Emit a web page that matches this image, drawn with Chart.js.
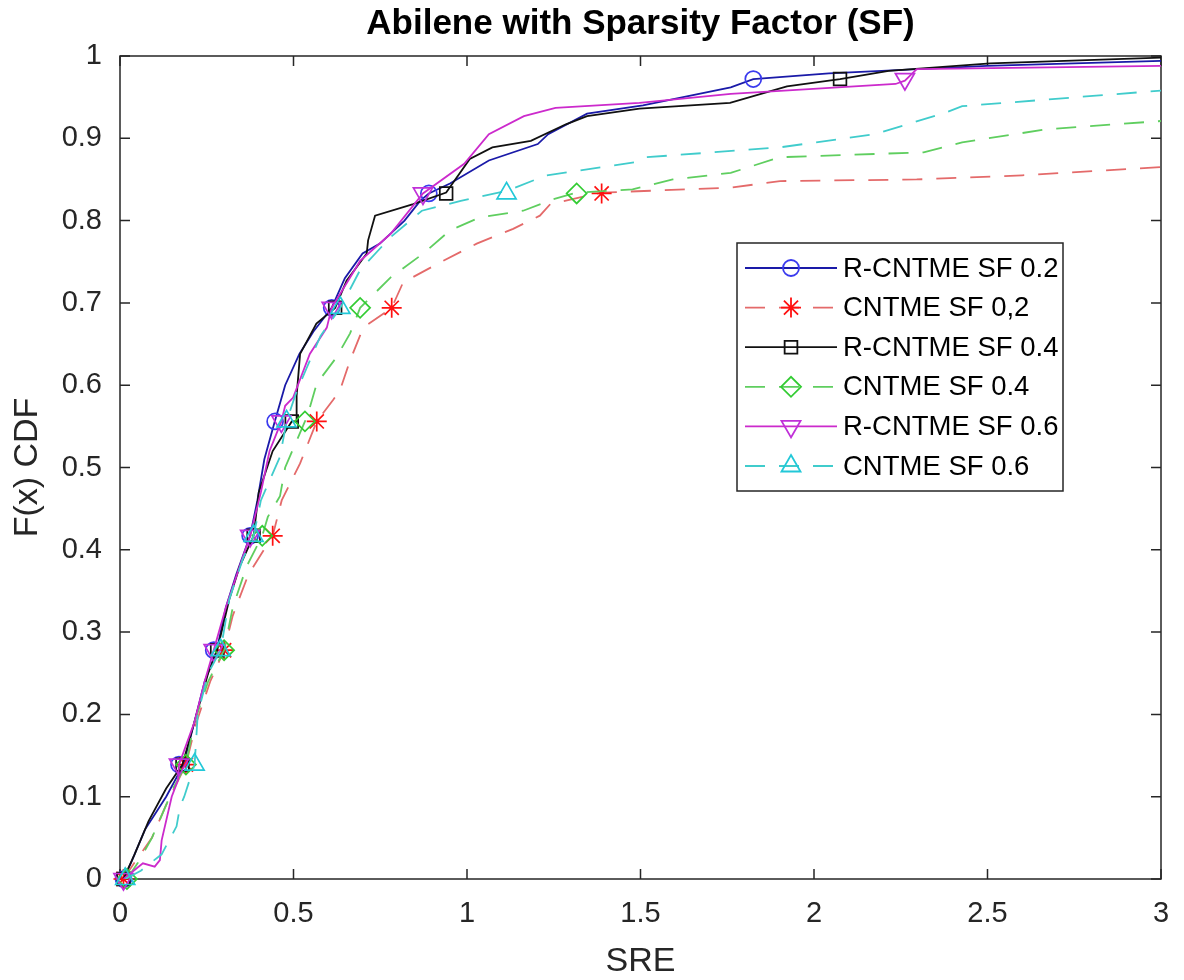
<!DOCTYPE html>
<html lang="en">
<head>
<meta charset="UTF-8">
<title>Abilene with Sparsity Factor (SF)</title>
<style>
  body { margin: 0; background: #fff; }
</style>
</head>
<body>
<canvas id="chart" width="1184" height="980"></canvas>
<script src="https://cdn.jsdelivr.net/npm/chart.js"></script>
<script>
// CDF levels where the markers sit (every 10th sample)
const markLevels = [0, 0.139, 0.278, 0.417, 0.556, 0.694, 0.833, 0.972]

const xTicks = [0, 0.5, 1, 1.5, 2, 2.5, 3]
const yTicks = [0, 0.1, 0.2, 0.3, 0.4, 0.5, 0.6, 0.7, 0.8, 0.9, 1]

// R-CNTME SF 0.2
const rc02X = [0.01, 0.032, 0.072, 0.133, 0.183, 0.214, 0.244, 0.279, 0.305, 0.335, 0.375, 0.396, 0.416, 0.446, 0.476, 0.517, 0.557, 0.61, 0.648, 0.699, 0.749, 0.82, 0.865, 0.89, 0.951, 1.063, 1.204, 1.234, 1.346, 1.507, 1.76, 1.825, 2.043, 2.498, 3.0]
const rc02Y = [0, 0.02, 0.06, 0.10, 0.139, 0.19, 0.24, 0.278, 0.33, 0.37, 0.417, 0.46, 0.51, 0.556, 0.60, 0.638, 0.665, 0.694, 0.73, 0.76, 0.772, 0.80, 0.824, 0.833, 0.845, 0.873, 0.893, 0.905, 0.93, 0.94, 0.962, 0.972, 0.979, 0.988, 0.994]
const rc02Mark = [0.01, 0.17, 0.27, 0.375, 0.447, 0.61, 0.89, 1.825]

// CNTME SF 0,2
const c02X = [0.01, 0.042, 0.092, 0.133, 0.19, 0.22, 0.26, 0.30, 0.325, 0.37, 0.44, 0.466, 0.519, 0.567, 0.614, 0.634, 0.663, 0.701, 0.783, 0.816, 0.931, 1.028, 1.133, 1.21, 1.24, 1.388, 1.76, 1.902, 2.296, 2.6, 3.0]
const c02Y = [0, 0.02, 0.05, 0.09, 0.139, 0.19, 0.24, 0.278, 0.32, 0.37, 0.417, 0.46, 0.505, 0.556, 0.582, 0.594, 0.63, 0.67, 0.694, 0.725, 0.751, 0.772, 0.79, 0.806, 0.82, 0.834, 0.840, 0.848, 0.85, 0.855, 0.865]
const c02Mark = [0.01, 0.19, 0.30, 0.44, 0.567, 0.783, 1.388]

// R-CNTME SF 0.4
const rc04X = [0.01, 0.042, 0.082, 0.133, 0.18, 0.214, 0.254, 0.28, 0.315, 0.345, 0.385, 0.40, 0.44, 0.495, 0.509, 0.509, 0.519, 0.566, 0.62, 0.653, 0.711, 0.715, 0.735, 0.845, 0.94, 1.008, 1.073, 1.184, 1.285, 1.346, 1.497, 1.758, 1.922, 2.075, 2.215, 2.508, 3.0]
const rc04Y = [0, 0.03, 0.07, 0.11, 0.139, 0.19, 0.25, 0.278, 0.34, 0.38, 0.417, 0.47, 0.52, 0.556, 0.556, 0.587, 0.638, 0.675, 0.694, 0.727, 0.76, 0.776, 0.806, 0.82, 0.834, 0.875, 0.889, 0.897, 0.917, 0.927, 0.936, 0.943, 0.963, 0.972, 0.982, 0.991, 0.998]
const rc04Mark = [0.01, 0.18, 0.28, 0.385, 0.495, 0.62, 0.94, 2.075]

// CNTME SF 0.4
const c04X = [0.02, 0.052, 0.092, 0.123, 0.153, 0.19, 0.214, 0.254, 0.30, 0.325, 0.365, 0.41, 0.426, 0.461, 0.476, 0.533, 0.545, 0.567, 0.624, 0.663, 0.692, 0.78, 0.874, 0.951, 1.037, 1.162, 1.249, 1.316, 1.477, 1.593, 1.76, 1.902, 2.316, 2.427, 2.67, 3.0]
const c04Y = [0, 0.02, 0.05, 0.08, 0.11, 0.139, 0.19, 0.24, 0.278, 0.33, 0.38, 0.417, 0.44, 0.465, 0.5, 0.556, 0.57, 0.602, 0.634, 0.663, 0.694, 0.731, 0.76, 0.788, 0.804, 0.812, 0.826, 0.834, 0.838, 0.85, 0.858, 0.877, 0.883, 0.895, 0.911, 0.921]
const c04Mark = [0.02, 0.19, 0.30, 0.41, 0.533, 0.692, 1.316]

// R-CNTME SF 0.6
const rc06X = [0.01, 0.066, 0.10, 0.115, 0.12, 0.149, 0.167, 0.17, 0.214, 0.244, 0.27, 0.305, 0.345, 0.375, 0.406, 0.431, 0.465, 0.476, 0.499, 0.547, 0.596, 0.61, 0.692, 0.78, 0.873, 0.992, 1.063, 1.164, 1.255, 1.497, 1.76, 2.235, 2.262, 2.296, 3.0]
const rc06Y = [0, 0.019, 0.015, 0.023, 0.047, 0.10, 0.12, 0.139, 0.19, 0.24, 0.278, 0.33, 0.38, 0.417, 0.47, 0.52, 0.556, 0.575, 0.585, 0.638, 0.67, 0.694, 0.751, 0.784, 0.833, 0.869, 0.905, 0.927, 0.937, 0.943, 0.954, 0.966, 0.97, 0.984, 0.988]
const rc06Mark = [0.01, 0.17, 0.27, 0.375, 0.465, 0.61, 0.873, 2.262]

// CNTME SF 0.6
const c06X = [0.015, 0.06, 0.12, 0.163, 0.173, 0.185, 0.215, 0.224, 0.254, 0.29, 0.315, 0.355, 0.385, 0.406, 0.461, 0.48, 0.507, 0.537, 0.578, 0.635, 0.692, 0.78, 0.87, 0.982, 1.114, 1.229, 1.487, 1.518, 1.902, 2.174, 2.371, 2.427, 3.0]
const c06Y = [0, 0.01, 0.03, 0.064, 0.088, 0.10, 0.139, 0.2, 0.25, 0.278, 0.34, 0.39, 0.417, 0.46, 0.513, 0.556, 0.59, 0.62, 0.66, 0.694, 0.74, 0.78, 0.812, 0.824, 0.836, 0.855, 0.871, 0.877, 0.889, 0.905, 0.93, 0.939, 0.958]
const c06Mark = [0.015, 0.215, 0.29, 0.385, 0.48, 0.635, 1.114]

const FONT = '"Liberation Sans", Arial, Helvetica, sans-serif'
const DASH = [20, 14]

const series = [
    { label: 'R-CNTME SF 0.2', xs: rc02X, ys: rc02Y, marks: rc02Mark, color: '#1a1aa8', markColor: '#3a3aee', dash: [], style: 'circle', radius: 8, rot: 0 },
    { label: 'CNTME SF 0,2', xs: c02X, ys: c02Y, marks: c02Mark, color: '#e46a6a', markColor: '#ff1010', dash: DASH, style: 'star', radius: 10, rot: 0 },
    { label: 'R-CNTME SF 0.4', xs: rc04X, ys: rc04Y, marks: rc04Mark, color: '#111111', markColor: '#111111', dash: [], style: 'rect', radius: 9, rot: 0 },
    { label: 'CNTME SF 0.4', xs: c04X, ys: c04Y, marks: c04Mark, color: '#5fce5f', markColor: '#33cc33', dash: DASH, style: 'rectRot', radius: 10, rot: 0 },
    { label: 'R-CNTME SF 0.6', xs: rc06X, ys: rc06Y, marks: rc06Mark, color: '#cc2acc', markColor: '#c030d8', dash: [], style: 'triangle', radius: 11, rot: 180 },
    { label: 'CNTME SF 0.6', xs: c06X, ys: c06Y, marks: c06Mark, color: '#40cccc', markColor: '#22c8d8', dash: DASH, style: 'triangle', radius: 11, rot: 0 }
]

const datasets = []
series.forEach((s, i) => {
    datasets.push({
        label: s.label,
        data: s.xs.map((x, k) => ({ x: x, y: s.ys[k] })),
        showLine: true,
        borderColor: s.color,
        borderWidth: 1.8,
        borderDash: s.dash,
        pointRadius: 0,
        order: 40 - i * 2
    })
    datasets.push({
        label: s.label + ' markers',
        data: s.marks.map((x, k) => ({ x: x, y: markLevels[k] })),
        showLine: false,
        pointStyle: s.style,
        pointRotation: s.rot,
        pointRadius: s.radius,
        pointBorderWidth: 1.7,
        pointBorderColor: s.markColor,
        pointBackgroundColor: 'rgba(0,0,0,0)',
        clip: false,
        order: 39 - i * 2
    })
})

// box around the axes with inward ticks on all four sides
const axesBox = {
    id: 'axesBox',
    beforeDatasetsDraw(chart) {
        const { ctx, chartArea: a, scales } = chart
        ctx.save()
        ctx.strokeStyle = '#262626'
        ctx.lineWidth = 1.5
        ctx.strokeRect(a.left, a.top, a.right - a.left, a.bottom - a.top)
        const tl = 10
        ctx.beginPath()
        xTicks.forEach(v => {
            const px = scales.x.getPixelForValue(v)
            ctx.moveTo(px, a.bottom); ctx.lineTo(px, a.bottom - tl)
            ctx.moveTo(px, a.top); ctx.lineTo(px, a.top + tl)
        })
        yTicks.forEach(v => {
            const py = scales.y.getPixelForValue(v)
            ctx.moveTo(a.left, py); ctx.lineTo(a.left + tl, py)
            ctx.moveTo(a.right, py); ctx.lineTo(a.right - tl, py)
        })
        ctx.stroke()
        ctx.restore()
    }
}

// matlab style legend box: line + marker + label
const boxLegend = {
    id: 'boxLegend',
    afterDraw(chart) {
        const ctx = chart.ctx
        const x0 = 737, y0 = 243, w = 326, h = 248
        ctx.save()
        ctx.fillStyle = '#fff'
        ctx.fillRect(x0, y0, w, h)
        ctx.strokeStyle = '#262626'
        ctx.lineWidth = 1.5
        ctx.strokeRect(x0, y0, w, h)
        series.forEach((s, i) => {
            const y = y0 + 25 + i * 39.6
            ctx.setLineDash(s.dash)
            ctx.strokeStyle = s.color
            ctx.lineWidth = 1.8
            ctx.beginPath()
            ctx.moveTo(745, y); ctx.lineTo(837, y)
            ctx.stroke()
            ctx.setLineDash([])
            ctx.strokeStyle = s.markColor
            ctx.fillStyle = 'rgba(0,0,0,0)'
            Chart.helpers.drawPoint(ctx, { pointStyle: s.style, radius: s.radius, rotation: s.rot, borderWidth: 1.7 }, 791, y)
            ctx.fillStyle = '#000'
            ctx.font = '27.5px ' + FONT
            ctx.textBaseline = 'middle'
            ctx.textAlign = 'left'
            ctx.fillText(s.label, 843, y + 1)
        })
        ctx.restore()
    }
}

new Chart(document.getElementById('chart'), {
    type: 'scatter',
    data: { datasets: datasets },
    options: {
        responsive: false,
        animation: false,
        layout: { padding: { left: 0, right: 23, top: 0, bottom: 0 } },
        plugins: {
            legend: { display: false },
            tooltip: { enabled: false },
            title: {
                display: true,
                fullSize: false,
                text: 'Abilene with Sparsity Factor (SF)',
                color: '#000',
                font: { family: FONT, size: 35, weight: 'bold' },
                padding: { top: 3, bottom: 11 }
            }
        },
        scales: {
            x: {
                type: 'linear', min: 0, max: 3,
                grid: { display: false, drawTicks: false },
                border: { display: false },
                afterBuildTicks: ax => { ax.ticks = xTicks.map(v => ({ value: v })) },
                ticks: {
                    color: '#262626', padding: 18, maxRotation: 0, autoSkip: false,
                    font: { family: FONT, size: 29 },
                    callback: v => String(+v.toFixed(1))
                },
                title: {
                    display: true, text: 'SRE', color: '#262626',
                    font: { family: FONT, size: 34, lineHeight: 1 },
                    padding: { top: 0, bottom: 1 }
                },
                afterFit: ax => {
                    ax.height = 101
                    ax.paddingLeft = 0
                    ax.paddingRight = 0
                }
            },
            y: {
                type: 'linear', min: 0, max: 1,
                grid: { display: false, drawTicks: false },
                border: { display: false },
                afterBuildTicks: ax => { ax.ticks = yTicks.map(v => ({ value: v })) },
                ticks: {
                    color: '#262626', padding: 18, autoSkip: false,
                    font: { family: FONT, size: 29 },
                    callback: v => String(+v.toFixed(1))
                },
                title: {
                    display: true, text: 'F(x) CDF', color: '#262626',
                    font: { family: FONT, size: 34, lineHeight: 1 },
                    padding: { top: 11, bottom: 0 }
                },
                afterFit: ax => { ax.width = 120 }
            }
        }
    },
    plugins: [axesBox, boxLegend]
})
</script>
</body>
</html>
